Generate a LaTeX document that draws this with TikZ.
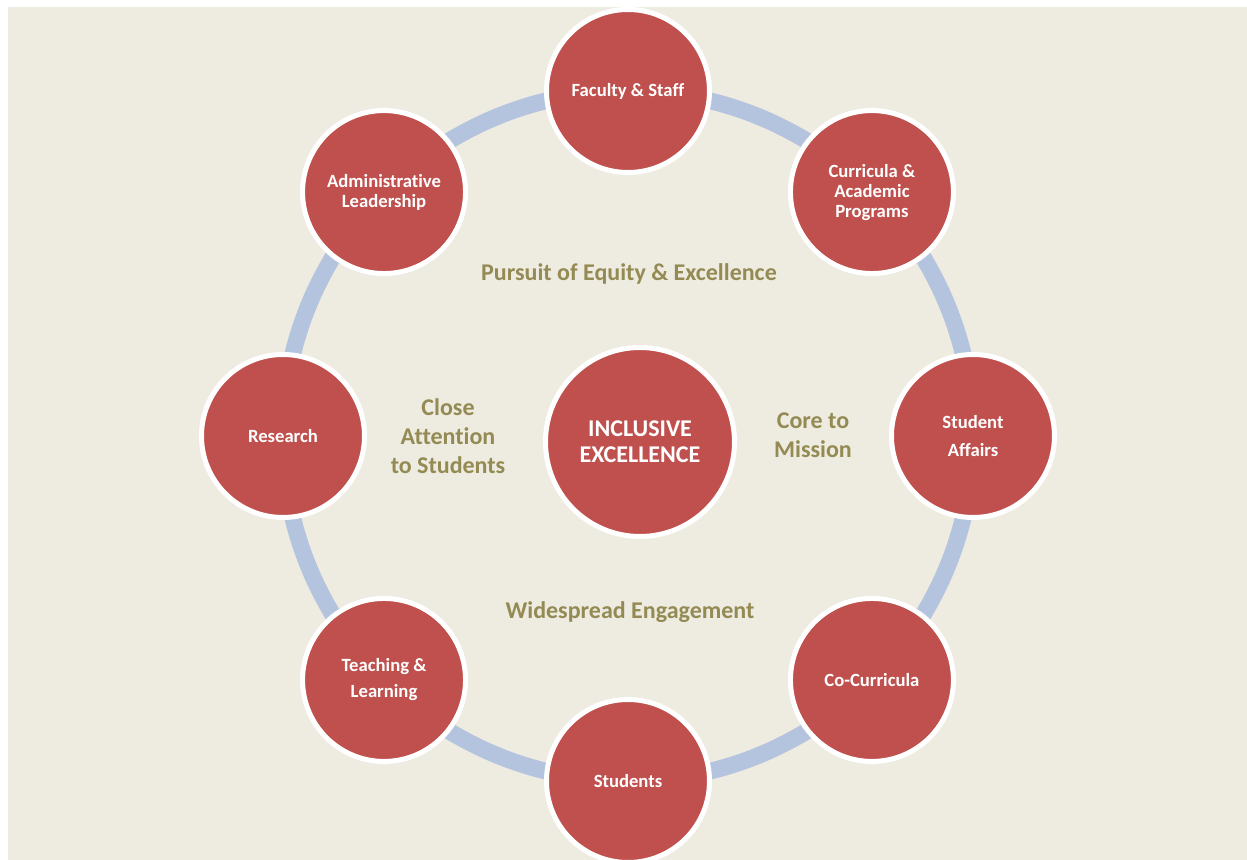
\documentclass[tikz,border=0pt]{standalone}
\usepackage{fontspec}
\setmainfont{Carlito}[Ligatures=NoCommon]

\definecolor{bgbeige}{HTML}{EEEBE0}
\definecolor{unitred}{HTML}{C0504D}
\definecolor{ringblue}{HTML}{B4C4DE}
\definecolor{themeolive}{HTML}{948A54}

\tikzset{
	unit/.style={circle, draw=white, line width=3.75pt, fill=unitred,
		minimum size=122.25pt, inner sep=0pt, align=center, text=white,
		font=\bfseries\fontsize{14}{15}\selectfont},
	core/.style={unit, minimum size=141.75pt,
		font=\bfseries\fontsize{18}{19.5}\selectfont},
	theme/.style={text=themeolive, align=center,
		font=\bfseries\fontsize{18}{21.75}\selectfont}
}

\begin{document}
\begin{tikzpicture}[x=0.75pt, y=0.75pt]
	\useasboundingbox (-628,-424) rectangle (619,436);
	\fill[white] (-628,-424) rectangle (619,436);
	\fill[bgbeige] (-620,-424) rectangle (619,429);
	\clip (-628,-424) rectangle (619,436);
	% ring behind the units
	\draw[ringblue, line width=12.5pt] (0,0) circle (345);
	\node[unit] (faculty) at (90:345) {Faculty \& Staff};
	\node[unit] (curricula) at (45:345) {Curricula \&\\Academic\\Programs};
	\node[unit, font=\bfseries\fontsize{14}{21}\selectfont]
		(affairs) at (0:345) {Student\\Affairs};
	\node[unit] (cocurricula) at (-45:345) {Co-Curricula};
	\node[unit] (students) at (-90:345) {Students};
	\node[unit, font=\bfseries\fontsize{14}{19.5}\selectfont]
		(teaching) at (-135:345) {Teaching \&\\Learning};
	\node[unit] (research) at (180:345) {Research};
	\node[unit] (admin) at (135:345) {Administrative\\Leadership};
	\node[core] (inclusive) at (12,-6) {INCLUSIVE\\EXCELLENCE};
	% themes
	\node[theme] (pursuit) at (1,162) {Pursuit of Equity \& Excellence};
	\node[theme] (attention) at (-180,0) {Close\\Attention\\to Students};
	\node[theme] (mission) at (185,1) {Core to\\Mission};
	\node[theme] (engagement) at (2,-176) {Widespread Engagement};
\end{tikzpicture}
\end{document}
